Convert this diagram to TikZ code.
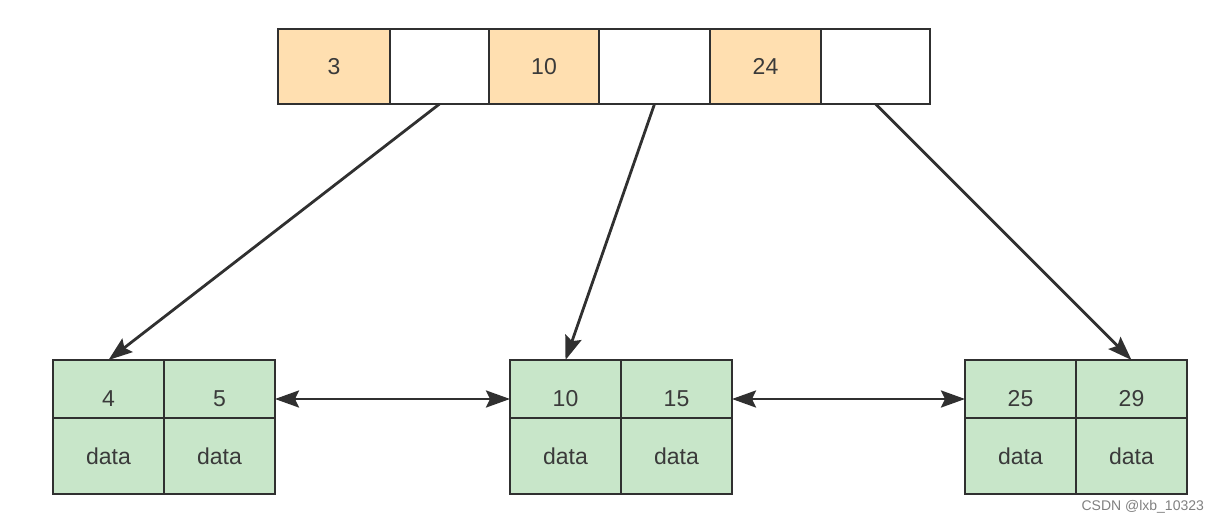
\documentclass[tikz,border=0pt]{standalone}
\usepackage{fontspec}
\setmainfont{Liberation Sans}
\usetikzlibrary{arrows.meta}

\definecolor{linegray}{HTML}{303030}
\definecolor{keyorange}{HTML}{FFDFB0}
\definecolor{leafgreen}{HTML}{C8E6C9}
\definecolor{textgray}{HTML}{3A3A3A}

\tikzset{
	cell/.style={draw=linegray, line width=1.3pt, inner sep=0pt, outer sep=0pt, text=textgray},
	leaf/.style={cell, fill=leafgreen, minimum width=55.5pt},
	ptr/.style={draw=linegray, line width=1.4pt, -{Stealth[length=12pt,width=8.5pt,inset=2pt]}},
	link/.style={draw=linegray, line width=1.4pt, {Stealth[length=12pt,width=8.5pt,inset=2pt]}-{Stealth[length=12pt,width=8.5pt,inset=2pt]}}
}

\begin{document}
\begin{tikzpicture}[x=0.5pt, y=-0.5pt, font=\fontsize{11.5}{13}\selectfont]
		\useasboundingbox (0,0) rectangle (1224,523);
		
			\foreach \n/\xl/\xr/\txt/\col in {k1/278/390/3/keyorange, p1/390/489//white, k2/489/599/10/keyorange, p2/599/710//white, k3/710/821/24/keyorange, p3/821/930//white}
				\node[cell, fill=\col, minimum width={(\xr-\xl)*0.5pt}, minimum height=37.5pt] (\n) at ({(\xl+\xr)/2}, 66.5) {\txt};
			
			\foreach \n/\x/\ka/\kb in {a/53/4/5, b/510/10/15, c/965/25/29} {
				\node[leaf, minimum height=29pt, label={[text=textgray, yshift=-5pt]center:\ka}] (\n1) at (\x+55.5, 389) {};
				\node[leaf, minimum height=29pt, label={[text=textgray, yshift=-5pt]center:\kb}] (\n2) at (\x+166.5, 389) {};
				\node[leaf, minimum height=38pt] (\n3) at (\x+55.5, 456) {data};
				\node[leaf, minimum height=38pt] (\n4) at (\x+166.5, 456) {data};
			}
			
			\draw[ptr] (p1.south) -- (a1.north);
			\draw[ptr] (p2.south) -- (b1.north);
			\draw[ptr] (p3.south) -- (c2.north);
			
			\draw[link] ([yshift=-5pt]a2.east) -- ([yshift=-5pt]b1.west);
			\draw[link] ([yshift=-5pt]b2.east) -- ([yshift=-5pt]c1.west);
			
			\node[text=gray, font=\fontsize{7}{8}\selectfont, anchor=east] (mark) at (1211, 507) {CSDN @lxb\_10323};

		\end{tikzpicture}
\end{document}
